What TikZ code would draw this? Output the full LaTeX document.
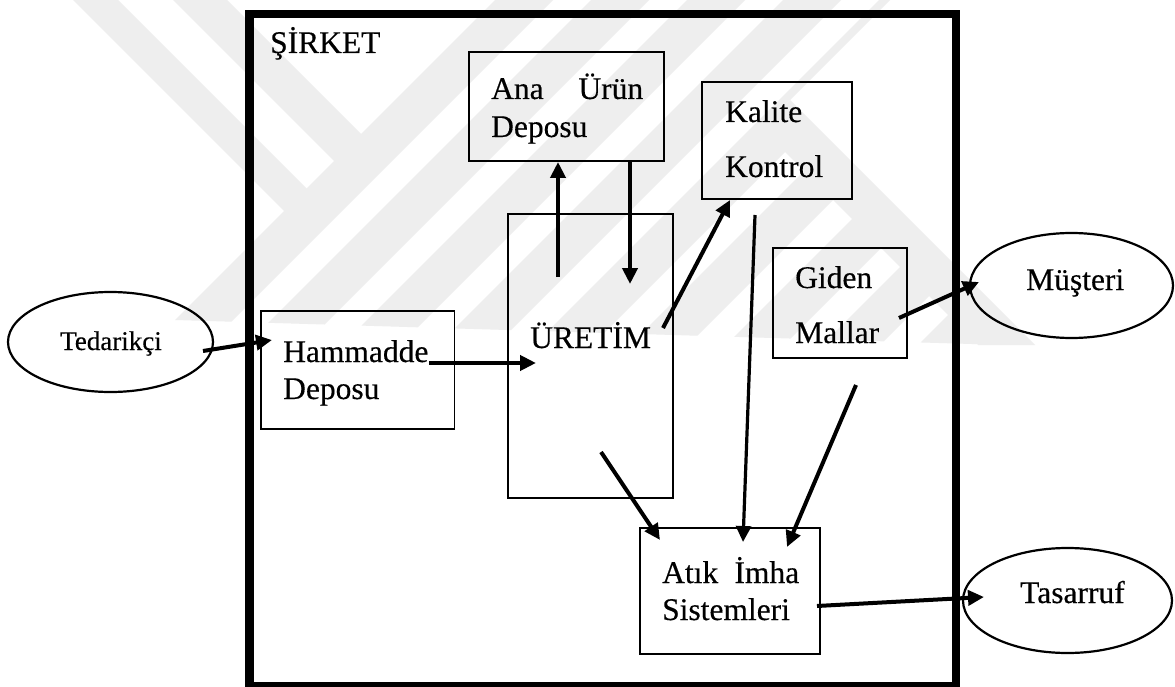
\documentclass[tikz,border=0pt]{standalone}
\usepackage{fontspec}
\setmainfont{Liberation Serif}
\newfontfamily\diagfont{Liberation Serif}[FakeBold=0.35]
\usetikzlibrary{arrows.meta,shapes.geometric}
\definecolor{wmark}{RGB}{238,238,238}
\begin{document}
\begin{tikzpicture}[x=1pt,y=-1pt,
  box/.style={draw, line width=1.8pt, rectangle, anchor=north west,
    inner sep=0pt, outer sep=0pt},
  oval/.style={draw, line width=2.2pt, ellipse, inner sep=0pt, outer sep=0pt},
  lbl/.style={anchor=base west, inner sep=0pt, font=\diagfont\fontsize{31.5}{37}\selectfont},
  small/.style={anchor=base, inner sep=0pt, font=\diagfont\fontsize{27}{32}\selectfont},
  arr/.style={line width=4pt, -{Triangle[length=16pt,width=15pt]}},
  wline/.style={line width=3.2pt, -{Triangle[length=16pt,width=15pt]}}]
\useasboundingbox (0,0) rectangle (1175,687);
\fill[white] (0,0) rectangle (1175,687);

% faint diagonal watermark bands
\begin{scope}
  \clip (495,0) -- (890,0) -- (775,115) -- (1005,345) -- (175,320) -- cycle;
  \foreach \k in {0,...,9} {
    \pgfmathsetmacro\a{495+96*\k}
    \fill[wmark] (\a,0) -- (\a+58,0) -- (\a+58-400,400) -- (\a-400,400) -- cycle;
  }
\end{scope}
\fill[wmark] (73,0) -- (118,0) -- (309,191) -- (286.5,213.5) -- cycle;
\fill[wmark] (173,0) -- (227,0) -- (363.5,136.5) -- (336.5,163.5) -- cycle;
\fill[wmark] (761.5,128.5) -- (790,100) -- (1035,345) -- (978,345) -- cycle;

% company frame
\node[draw, line width=8.5pt, rectangle, anchor=north west, inner sep=0pt,
  minimum width=706.5pt, minimum height=672pt] (sirket) at (245,10) {};
\node[lbl] (tsirket) at (270,53) {ŞİRKET};

% boxes
\node[box, minimum width=195pt, minimum height=109pt] (ana) at (469,52) {};
\node[box, minimum width=150pt, minimum height=117pt] (kalite) at (702,82) {};
\node[box, minimum width=165pt, minimum height=284pt] (uretim) at (508,214) {};
\node[box, minimum width=134pt, minimum height=110pt] (giden) at (773,248) {};
\node[box, minimum width=193.5pt, minimum height=118pt] (ham) at (261,311) {};
\node[box, minimum width=180pt, minimum height=126pt] (atik) at (640,528) {};

% outside parties
\node[oval, minimum width=205pt, minimum height=100pt] (ted) at (110.5,342) {};
\node[oval, minimum width=203pt, minimum height=105pt] (mus) at (1071.5,285.5) {};
\node[oval, minimum width=209pt, minimum height=105pt] (tas) at (1067.5,600.5) {};

% labels
\node[lbl] (tana1) at (491,99) {\makebox[152pt][s]{Ana Ürün}};
\node[lbl] (tana2) at (491,137) {Deposu};
\node[lbl] (tkal1) at (725,122) {Kalite};
\node[lbl] (tkal2) at (725,177) {Kontrol};
\node[lbl] (turet) at (530,348) {ÜRETİM};
\node[lbl] (tgid1) at (795,288) {Giden};
\node[lbl] (tgid2) at (795,343) {Mallar};
\node[lbl] (tham1) at (283,362) {Hammadde};
\node[lbl] (tham2) at (283,399) {Deposu};
\node[lbl] (tatk1) at (662,583) {\makebox[137pt][s]{Atık İmha}};
\node[lbl] (tatk2) at (662,620) {Sistemleri};
\node[small] (tted) at (111,350) {Tedarikçi};
\node[lbl] (tmus) at (1026,290) {Müşteri};
\node[lbl] (ttas) at (1020,603) {Tasarruf};

% connector end points
\coordinate (c1s) at (203,351);  \coordinate (c1e) at (272,340);
\coordinate (c2s) at (429,363);  \coordinate (c2e) at (536,363);
\coordinate (c3s) at (558,277);  \coordinate (c3e) at (558,162);
\coordinate (c4s) at (630,162);  \coordinate (c4e) at (630,284);
\coordinate (c5s) at (663,328);  \coordinate (c5e) at (730,200);
\coordinate (c6s) at (755,215);  \coordinate (c6e) at (743,542);
\coordinate (c7s) at (899,318);  \coordinate (c7e) at (979,282);
\coordinate (c8s) at (856,385);  \coordinate (c8e) at (787,547);
\coordinate (c9s) at (601,452);  \coordinate (c9e) at (660,540);
\coordinate (c10s) at (817,606); \coordinate (c10e) at (984,597);

% flows
\draw[arr] (c1s) -- (c1e);
\draw[arr] (c2s) -- (c2e);
\draw[arr] (c3s) -- (c3e);
\draw[arr] (c4s) -- (c4e);
\draw[arr] (c5s) -- (c5e);
\draw[wline] (c6s) -- (c6e);
\draw[arr] (c7s) -- (c7e);
\draw[arr] (c8s) -- (c8e);
\draw[arr] (c9s) -- (c9e);
\draw[arr] (c10s) -- (c10e);
\end{tikzpicture}
\end{document}
